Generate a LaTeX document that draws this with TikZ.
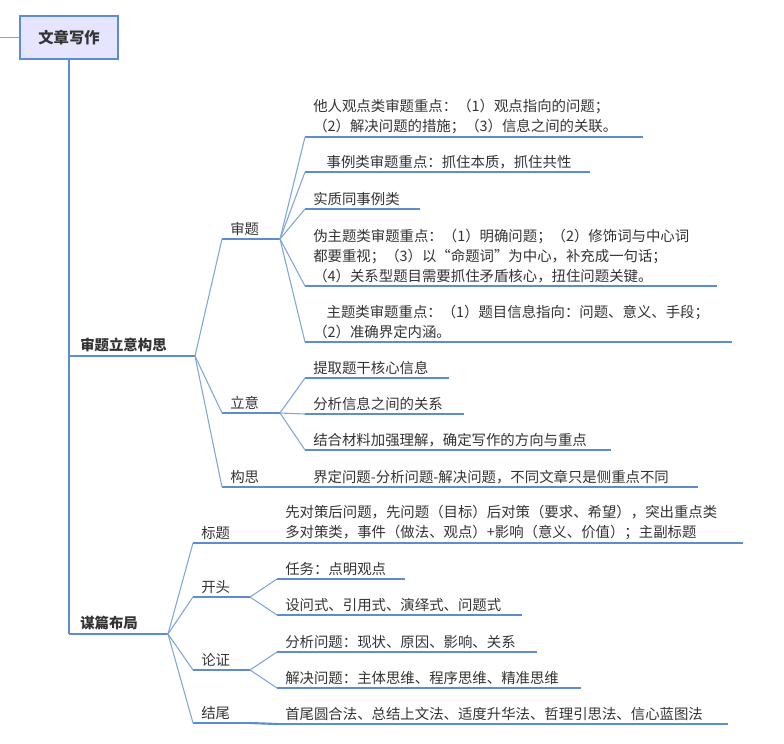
\documentclass[tikz,border=0pt]{standalone}
\usepackage{fontspec}
\setmainfont{Noto Sans CJK SC}
\usetikzlibrary{calc}
\begin{document}
\begin{tikzpicture}[x=0.75pt,y=-0.75pt,
  ul/.style={draw=lineblue,line width=1.6pt},
  cv/.style={draw=curveblue,line width=0.8pt},
  txt/.style={anchor=south west,inner sep=0pt,align=left,font=\fontsize{10.8}{15}\selectfont,text=black!80},
  btxt/.style={txt,font=\fontsize{10.8}{15}\selectfont\bfseries}]
\definecolor{lineblue}{HTML}{5B8DD0}
\definecolor{curveblue}{HTML}{7FA6DA}
\useasboundingbox (0,0) rectangle (784,743);
\newcommand\ulx[5]{\coordinate (#1a) at (#2,#4); \coordinate (#1b) at (#3,#4); \draw[ul] (#1a) -- (#1b); \node[txt] (#1t) at (#2+8,#4-3) {#5};}
\newcommand\cvx[2]{\draw[cv] (#1) .. controls ($(#1)!0.5!(#2)$ |- #1) and ($(#1)!0.5!(#2)$ |- #2) .. (#2);}
% root
\node[draw=lineblue,line width=1.4pt,fill=blue!10!white,minimum width=98*0.75pt,minimum height=43*0.75pt,font=\fontsize{11.5}{13}\selectfont\bfseries,text=black!80] (root) at (69,37.5) {文章写作};
\coordinate (L) at (0,37.5);
\draw[cv,line width=1pt] (L) -- (root.west);
\coordinate (spine) at (69,634);
\draw[ul,line width=1.2pt] (root.south) -- (spine);
% level 1
\coordinate (sza) at (69,356); \coordinate (szb) at (195,356);
\draw[ul] (sza) -- (szb); \node[btxt] (szt) at (80,352) {审题立意构思};
\coordinate (mpb) at (168,634);
\draw[ul] (spine) -- (mpb); \node[btxt] (mpt) at (80,630) {谋篇布局};
% level 2
\ulx{sh}{222}{280}{239}{审题}
\ulx{ly}{222}{280}{413}{立意}
\ulx{gs}{222}{280}{487}{构思}
\cvx{szb}{sha}\cvx{szb}{lya}\cvx{szb}{gsa}
\ulx{bt}{193}{250}{543}{标题}
\ulx{kt}{193}{250}{597}{开头}
\ulx{lz}{193}{250}{670}{论证}
\ulx{jw}{193}{250}{723}{结尾}
\cvx{mpb}{bta}\cvx{mpb}{kta}\cvx{mpb}{lza}\cvx{mpb}{jwa}
% leaves of 审题
\ulx{a1}{305}{643}{137}{他人观点类审题重点：（1）观点指向的问题；\\（2）解决问题的措施；（3）信息之间的关联。}
\ulx{a2}{305}{590}{172}{\hspace{10pt}事例类审题重点：抓住本质，抓住共性}
\ulx{a3}{305}{420}{209}{实质同事例类}
\ulx{a4}{305}{717}{286}{伪主题类审题重点：（1）明确问题；（2）修饰词与中心词\\都要重视；（3）以“命题词”为中心，补充成一句话；\\（4）关系型题目需要抓住矛盾核心，扭住问题关键。}
\ulx{a5}{305}{732}{342}{\hspace{10pt}主题类审题重点：（1）题目信息指向：问题、意义、手段；\\（2）准确界定内涵。}
\foreach \n in {a1,a2,a3,a4,a5} {\cvx{shb}{\n a}}
% leaves of 立意
\ulx{b1}{305}{449}{378}{提取题干核心信息}
\ulx{b2}{305}{464}{414}{分析信息之间的关系}
\ulx{b3}{305}{611}{450}{结合材料加强理解，确定写作的方向与重点}
\foreach \n in {b1,b2,b3} {\cvx{lyb}{\n a}}
\ulx{c1}{305}{698}{487}{界定问题-分析问题-解决问题，不同文章只是侧重点不同}
\draw[ul] (gsb) -- (c1a);
% 谋篇布局 leaves
\ulx{d1}{277}{743}{543}{先对策后问题，先问题（目标）后对策（要求、希望），突出重点类\\多对策类，事件（做法、观点）+影响（意义、价值）；主副标题}
\draw[ul] (btb) -- (d1a);
\ulx{e1}{277}{405}{579}{任务：点明观点}
\ulx{e2}{277}{522}{615}{设问式、引用式、演绎式、问题式}
\cvx{ktb}{e1a}\cvx{ktb}{e2a}
\ulx{f1}{277}{537}{652}{分析问题：现状、原因、影响、关系}
\ulx{f2}{277}{581}{688}{解决问题：主体思维、程序思维、精准思维}
\cvx{lzb}{f1a}\cvx{lzb}{f2a}
\ulx{g1}{277}{728}{724}{首尾圆合法、总结上文法、适度升华法、哲理引思法、信心蓝图法}
\draw[ul] (jwb) -- (g1a);
\end{tikzpicture}
\end{document}
